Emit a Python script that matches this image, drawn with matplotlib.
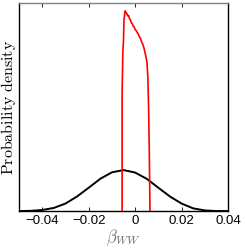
import numpy as np
import matplotlib
matplotlib.use("Agg")
import matplotlib.pyplot as plt

plt.rcParams['mathtext.fontset'] = 'cm'
plt.rcParams['font.family'] = ['Liberation Sans', 'DejaVu Sans']

# prior (black) density (arbitrary units, 0..1 of axis height)
prior_x = [-0.050, -0.045, -0.040, -0.035, -0.030, -0.025, -0.020, -0.015, -0.010,
           -0.005, 0.000, 0.005, 0.010, 0.015, 0.020, 0.025, 0.030, 0.035, 0.040]
prior_y = [0.000, 0.001, 0.005, 0.015, 0.036, 0.070, 0.112, 0.155, 0.186,
           0.197, 0.185, 0.155, 0.112, 0.070, 0.036, 0.013, 0.003, 0.000, 0.000]

# posterior (red) density
post_x = [-0.0056, -0.0056, -0.0053, -0.0050, -0.0048, -0.0045, -0.0043, -0.0040,
          -0.0036, -0.0032, -0.0028, -0.0024, -0.0020, -0.0016, -0.0012, -0.0008,
          -0.0004, 0.0000, 0.0004, 0.0008, 0.0013, 0.0018, 0.0022, 0.0026,
          0.0030, 0.0034, 0.0038, 0.0042, 0.0046, 0.0051, 0.0055, 0.0058,
          0.0061, 0.0063, 0.0064]
post_y = [0.000, 0.560, 0.760, 0.822, 0.918, 0.945, 0.962, 0.955,
          0.950, 0.938, 0.940, 0.925, 0.918, 0.905, 0.900, 0.888,
          0.885, 0.872, 0.868, 0.860, 0.852, 0.838, 0.832, 0.820,
          0.808, 0.800, 0.784, 0.765, 0.745, 0.716, 0.640, 0.500,
          0.300, 0.100, 0.000]

xticks = [-0.04, -0.02, 0, 0.02, 0.04]
xticklabels = ['\u22120.04', '\u22120.02', '0', '0.02', '0.04']

fig = plt.figure(figsize=(2.45, 2.48), dpi=100)
ax = fig.add_axes([0.0776, 0.149, 0.853, 0.839])

ax.plot(prior_x, prior_y, color='black', lw=1.4)
ax.plot(post_x, post_y, color='red', lw=1.2)

ax.set_xlim(-0.05, 0.04)
ax.set_ylim(0, 1.0)
ax.set_yticks([])
ax.set_xticks(xticks)
ax.set_xticklabels(xticklabels, fontsize=9.5)
ax.tick_params(axis='x', direction='in', length=3, width=0.6, top=True, pad=3)

for side in ['left', 'bottom', 'right']:
    ax.spines[side].set_color('black')
    ax.spines[side].set_linewidth(1.0)
ax.spines['top'].set_color('#808080')
ax.spines['top'].set_linewidth(1.0)

ax.set_xlabel(r'$\beta_{WW}$', fontsize=12, color='#707070', labelpad=0)
ax.set_ylabel(r'$\mathrm{Probability\ density}$', fontsize=11.5, labelpad=1)

fig.savefig('out.png', dpi=100)
